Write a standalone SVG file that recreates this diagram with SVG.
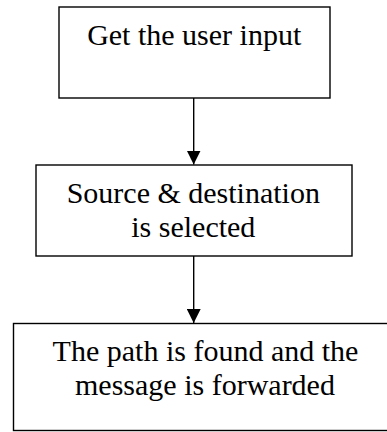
<svg xmlns="http://www.w3.org/2000/svg" width="387" height="432" viewBox="0 0 387 432">
  <style>
    .box { fill: #ffffff; stroke: #000000; stroke-width: 1.4; }
    .edge { stroke: #000000; stroke-width: 1.4; fill: none; }
  </style>
  <defs>
    <marker id="arrow" markerUnits="userSpaceOnUse" markerWidth="14" markerHeight="14" refX="14" refY="7" orient="auto">
      <path d="M0,0 L14,7 L0,14 Z" fill="#000000"/>
    </marker>
  </defs>
  <rect width="387" height="432" fill="#ffffff"/>

  <g id="connectors">
    <line class="edge" x1="193.7" y1="98" x2="193.7" y2="164.5" marker-end="url(#arrow)"/>
    <line class="edge" x1="193.7" y1="256" x2="193.7" y2="323" marker-end="url(#arrow)"/>
  </g>

  <g font-family="'Liberation Serif', 'Times New Roman', serif" font-size="30" fill="#000000" text-anchor="middle">
    <g id="get-input">
      <rect class="box" x="59" y="7" width="271" height="91"/>
      <text x="194.2" y="45">Get the user input</text>
    </g>

    <g id="select-endpoints">
      <rect class="box" x="36" y="165" width="316" height="91"/>
      <text x="193.3" y="202.7">Source &amp; destination</text>
      <text x="193.3" y="236.7">is selected</text>
    </g>

    <g id="forward-message">
      <rect class="box" x="13.5" y="323.5" width="384" height="107"/>
      <text x="205.5" y="361">The path is found and the</text>
      <text x="205" y="395">message is forwarded</text>
    </g>
  </g>
</svg>
